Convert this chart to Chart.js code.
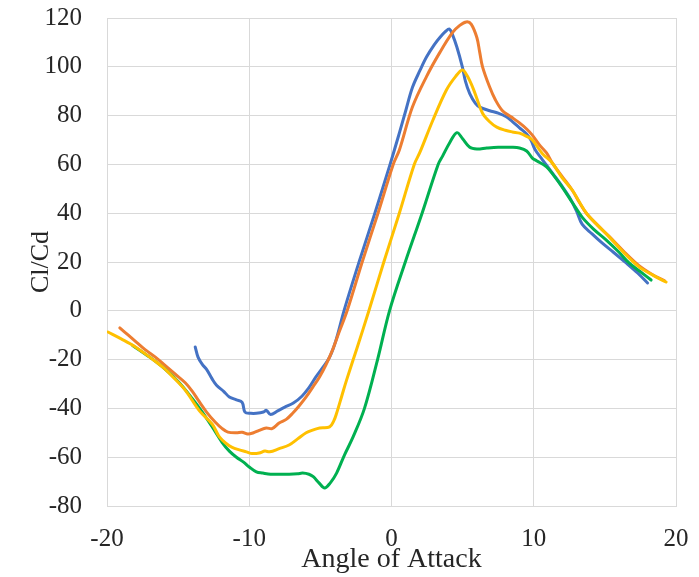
<!DOCTYPE html>
<html>
<head>
<meta charset="utf-8">
<script src="https://cdn.jsdelivr.net/npm/chart.js@4"></script>
<style>
  body { margin: 0; background: #fff; }
  #wrap { width: 699px; height: 577px; }
</style>
</head>
<body>
<div id="wrap"><canvas id="main-chart" width="699" height="577"></canvas></div>
<script>
// angle of attack (deg) and Cl/Cd, one pair of arrays per curve
const blueAoa = [-13.8, -13.6, -13.3, -13.0, -12.6, -12.3, -11.8, -11.4, -10.9, -10.5, -10.3, -9.9, -9.5, -9.0, -8.8, -8.5, -8.0, -7.5, -6.9, -6.3, -5.8, -5.3, -4.8, -4.35, -3.9, -3.34, -2.28, -1.17, -0.1, 0.56, 1.0, 1.47, 2.0, 2.46, 3.0, 3.4, 3.8, 4.07, 4.3, 4.6, 4.98, 5.2, 5.5, 5.9, 6.2, 6.9, 7.5, 8.07, 8.5, 9.0, 9.5, 9.8, 10.1, 10.6, 11.3, 12.0, 12.5, 13.0, 13.4, 14.1, 14.8, 15.6, 16.5, 17.3, 18.0];
const blueVal = [-14.8, -19, -22, -24, -28, -30.5, -33, -35.3, -36.5, -37.5, -41.5, -42, -42, -41.5, -40.8, -42.5, -41, -39.5, -37.8, -35, -31.5, -27, -23, -19, -12, 0, 20, 40, 60, 73, 82, 91.5, 98.5, 104, 109, 112, 114.5, 115.5, 113, 108, 100, 94, 89, 85, 83.5, 82, 81, 79.5, 77.5, 75, 72.5, 70, 66, 62, 56.5, 51, 46.6, 41, 35.5, 31.5, 27.8, 24, 19.6, 15.5, 11.4];

const orangeAoa = [-19.1, -18.5, -17.9, -17.3, -16.6, -15.9, -15.2, -14.5, -14.0, -13.6, -13.0, -12.4, -11.9, -11.5, -10.9, -10.5, -10.1, -9.7, -9.3, -8.8, -8.4, -7.9, -7.4, -6.95, -6.5, -6.0, -5.5, -5.05, -4.6, -4.14, -3.7, -3.12, -2.06, -0.95, 0.12, 0.56, 1.47, 2.46, 3.37, 4.28, 4.8, 5.26, 5.6, 6.0, 6.2, 6.4, 6.9, 7.3, 7.8, 8.4, 9.0, 9.5, 9.9, 10.4, 10.9, 11.3, 12.0, 12.7, 13.2, 13.7, 14.5, 15.3, 16.3, 17.4, 18.3, 19.2];
const orangeVal = [-7, -10, -13, -16, -19, -22.5, -26, -29.5, -33, -36.5, -41.5, -45.6, -48.3, -49.7, -50, -49.8, -50.5, -50, -49, -48, -48.3, -46, -44.5, -42, -39, -35.3, -31, -27, -22, -16, -9, 0, 20, 40, 60, 66, 83.5, 96, 105.6, 114, 117, 118.4, 117.5, 112, 106, 100, 91.7, 86.5, 82, 79.5, 77, 74.5, 72, 68, 64.7, 60.6, 55, 49.5, 44.5, 40, 35, 30.5, 24.5, 18.5, 15, 12.3];

const yellowAoa = [-19.93, -19.0, -18.0, -17.0, -16.1, -15.3, -14.5, -13.5, -12.6, -12.1, -11.6, -11.2, -10.7, -10.2, -9.8, -9.3, -8.9, -8.56, -7.9, -7.2, -6.6, -6.0, -5.5, -5.05, -4.35, -4.05, -3.86, -3.5, -3.16, -2.4, -1.59, -0.54, 0.55, 1.6, 2.0, 2.9, 3.86, 4.5, 4.98, 5.3, 5.7, 6.0, 6.4, 6.9, 7.4, 8.0, 8.5, 9.0, 9.5, 9.9, 10.6, 11.3, 12.0, 12.7, 13.7, 14.5, 15.3, 16.3, 17.4, 18.4, 19.3];
const yellowVal = [-8.7, -11.5, -14.8, -19, -23, -27.5, -32.5, -41, -46.5, -51.7, -54.5, -56, -57, -57.8, -58.5, -58.3, -57.5, -57.8, -56.5, -55, -52.5, -50, -48.8, -48, -47.6, -45, -42, -35, -28.4, -14.8, 0, 20, 40, 60, 65, 78, 90.5, 96, 98.7, 96.5, 91.7, 87, 81, 77.5, 75.3, 74, 73.3, 72.8, 71.5, 70, 64.5, 60.6, 54.5, 49.5, 40, 35, 30.3, 24, 18, 14.5, 11.8];

const greenAoa = [-18.2, -17.0, -16.0, -15.0, -14.0, -13.3, -12.6, -11.9, -11.4, -10.9, -10.4, -10.0, -9.5, -9.05, -8.5, -7.9, -7.2, -6.6, -6.25, -5.8, -5.5, -5.1, -4.7, -4.3, -3.86, -3.3, -2.7, -1.9, -0.98, -0.14, 0.97, 2.15, 3.28, 3.6, 4.1, 4.6, 5.0, 5.5, 6.0, 6.7, 7.5, 8.5, 9.0, 9.5, 9.9, 10.2, 10.9, 11.4, 12.0, 12.7, 13.4, 14.2, 15.1, 16.0, 16.7, 17.5, 18.25];
const greenVal = [-14.2, -19, -23.5, -29, -36, -41.5, -47.6, -54, -57.5, -60, -62, -64, -66, -66.5, -67, -67, -67, -66.8, -66.5, -67, -68, -70.5, -72.6, -70.5, -66.5, -59, -51.7, -40, -20, 0, 20, 40, 60, 63.5, 69, 73, 70.5, 67, 66.3, 66.7, 67, 67, 66.7, 65.5, 62.6, 61.5, 59, 55.5, 50.7, 44.5, 38.4, 33.5, 29, 24, 19.6, 16, 12.6];

const xTicks = [-20, -10, 0, 10, 20];
const yTicks = [-80, -60, -40, -20, 0, 20, 40, 60, 80, 100, 120];

const toPoints = (xs, ys) => xs.map((x, i) => ({ x: x, y: ys[i] }));

const series = (pts, color, order) => ({
    data: pts,
    borderColor: color,
    backgroundColor: color,
    borderWidth: 3,
    pointRadius: 0,
    showLine: true,
    tension: 0.35,
    borderCapStyle: 'round',
    borderJoinStyle: 'round',
    order: order,
});

const textColor = '#262626';
const gridColor = '#d9d9d9';
const serif = 'Liberation Serif';

const config = {
    type: 'scatter',
    data: {
        datasets: [
            series(toPoints(blueAoa, blueVal), '#4472C4', 4),
            series(toPoints(orangeAoa, orangeVal), '#ED7D31', 3),
            series(toPoints(greenAoa, greenVal), '#00B050', 2),
            series(toPoints(yellowAoa, yellowVal), '#FFC000', 1),
        ]
    },
    options: {
        responsive: false,
        animation: false,
        layout: {
            padding: { top: 18, right: 23, left: 0, bottom: 0 }
        },
        plugins: {
            legend: { display: false },
            tooltip: { enabled: false },
        },
        scales: {
            x: {
                type: 'linear',
                min: -20,
                max: 20,
                afterBuildTicks: (scale) => { scale.ticks = xTicks.map(v => ({ value: v })); },
                afterFit: (scale) => {
                    scale.height = 71;
                    scale.paddingLeft = 0;
                    scale.paddingRight = 0;
                },
                grid: { color: gridColor, drawTicks: false },
                border: { color: gridColor },
                ticks: { color: textColor, font: { family: serif, size: 25 }, padding: 18, maxRotation: 0 },
                title: {
                    display: true,
                    text: 'Angle of Attack',
                    color: textColor,
                    font: { family: serif, size: 28 },
                    padding: { top: 0, bottom: 1 },
                },
            },
            y: {
                type: 'linear',
                min: -80,
                max: 120,
                afterBuildTicks: (scale) => { scale.ticks = yTicks.map(v => ({ value: v })); },
                afterFit: (scale) => {
                    scale.width = 107;
                    scale.paddingTop = 0;
                    scale.paddingBottom = 0;
                },
                grid: { color: gridColor, drawTicks: false },
                border: { color: gridColor },
                ticks: { color: textColor, font: { family: serif, size: 25 }, padding: 25 },
                title: {
                    display: true,
                    text: 'Cl/Cd',
                    color: textColor,
                    font: { family: serif, size: 26 },
                    padding: { top: 26, bottom: 0 },
                },
            },
        },
    },
};

const myChart = new Chart(document.getElementById('main-chart'), config);
</script>
</body>
</html>
